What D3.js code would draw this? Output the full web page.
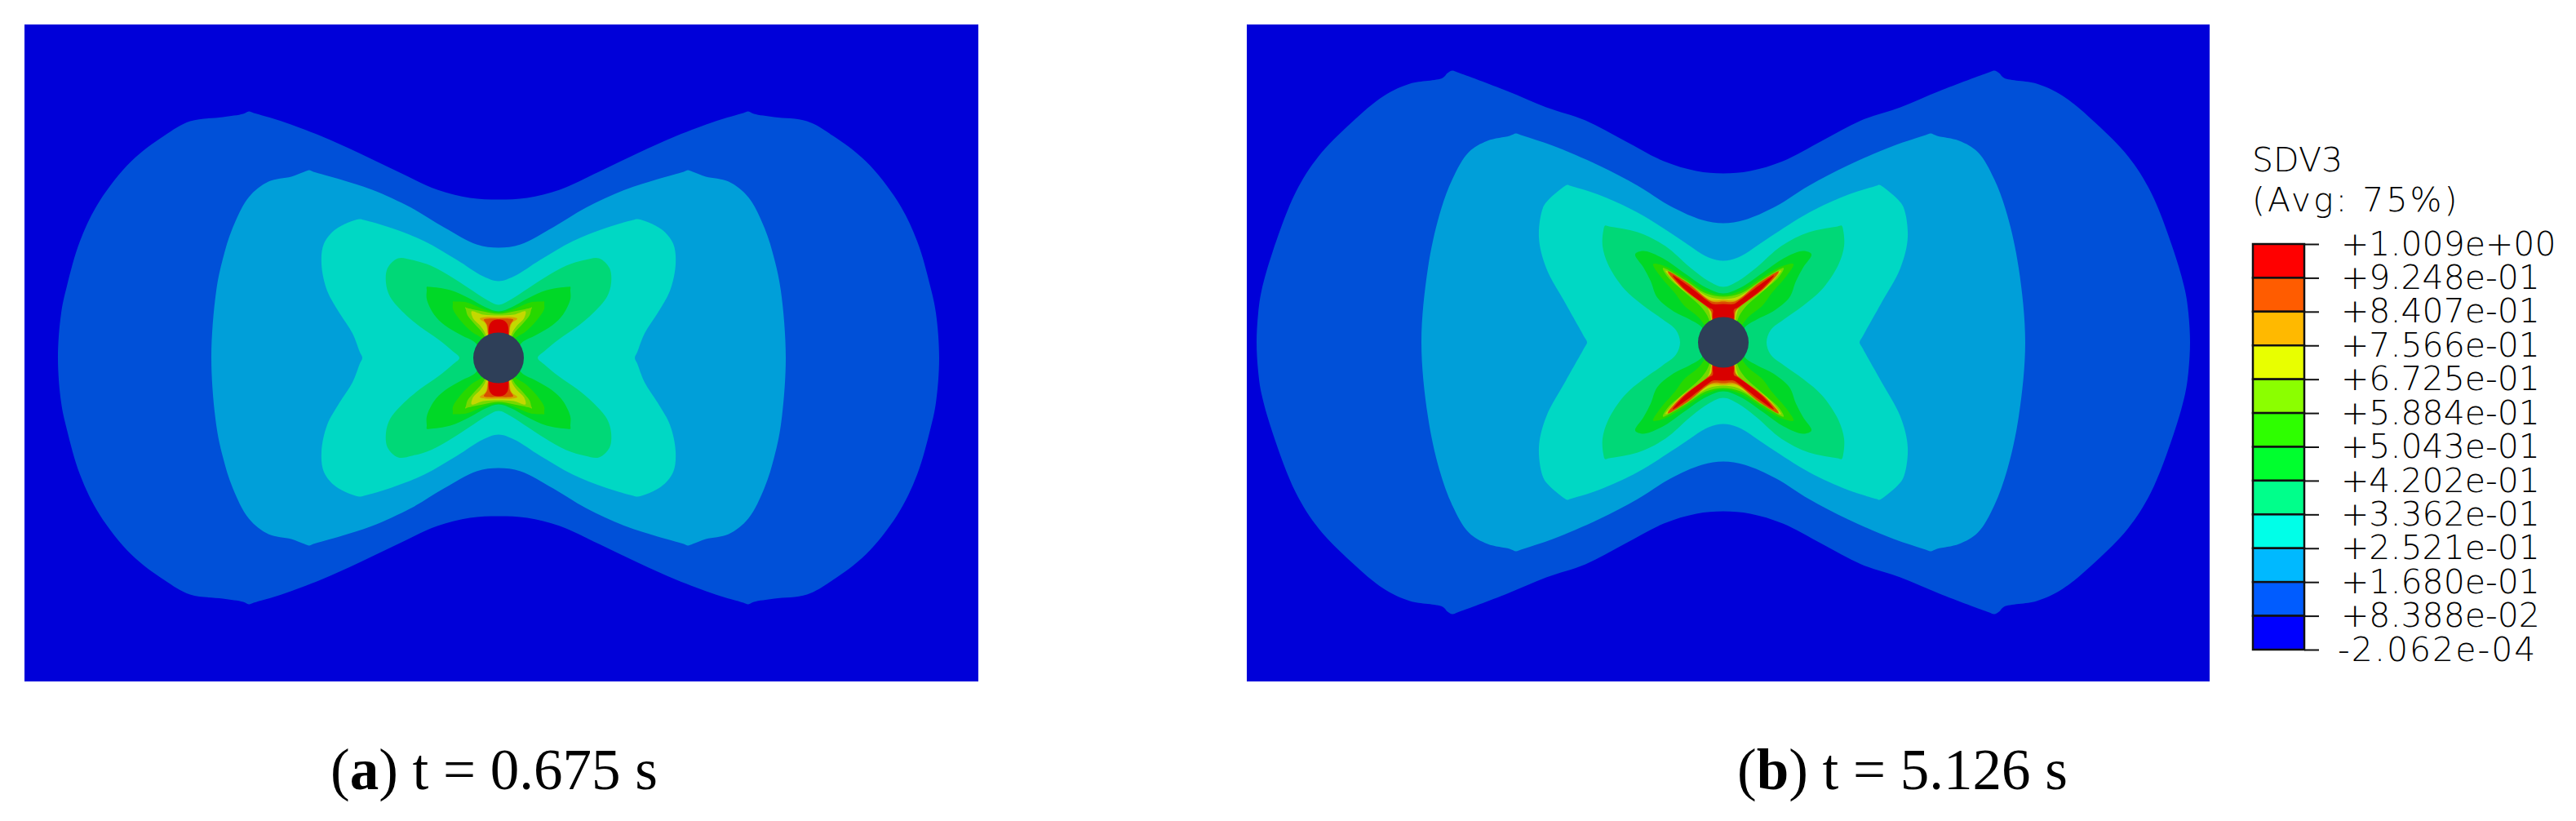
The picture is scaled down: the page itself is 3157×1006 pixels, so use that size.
<!DOCTYPE html>
<html>
<head>
<meta charset="utf-8">
<script src="https://cdn.jsdelivr.net/npm/d3@7"></script>
<style>
  html, body { margin: 0; padding: 0; background: #fff; }
  .caption { font-family: "Liberation Serif", serif; font-size: 71px; fill: #000; }
  .legendText { font-family: "DejaVu Sans", sans-serif; font-weight: 200; font-size: 41px; fill: #000; }
</style>
</head>
<body>
<div id="chart"></div>
<script>
// Legend values, top to bottom
var legendLabels = ["+1.009e+00", "+9.248e-01", "+8.407e-01", "+7.566e-01", "+6.725e-01", "+5.884e-01",
  "+5.043e-01", "+4.202e-01", "+3.362e-01", "+2.521e-01", "+1.680e-01", "+8.388e-02", "-2.062e-04"];
var legendColors = ["#ff0000", "#ff5c00", "#ffb900", "#e8ff00", "#8bff00", "#2eff00",
  "#00ff2e", "#00ff8b", "#00ffe8", "#00b9ff", "#005cff", "#0000ff"];

// Same bands as shaded in the contour plots, lowest first
var shadedColors = ["#0000d9", "#0050d8", "#009fd9", "#00d8c4", "#00d877", "#00d827",
  "#27d800", "#76d800", "#c4d800", "#d99f00", "#d94f00", "#d90000"];
var holeColor = "#2e3f58";

// One quadrant of each contour: from the vertical axis to the horizontal one
var contoursA = [
  [[0,-194],[35,-196],[75,-206],[123,-228],[171,-251],[218,-272],[266,-290],[300,-300],[306,-302],[313,-299],[338,-295],[378,-290],[410,-272],[450,-241],[489,-192],[513,-143],[529,-88],[536,-55],[540,0]],
  [[0,-135],[27,-139],[67,-160],[107,-184],[155,-206],[195,-219],[227,-228],[232,-230],[238,-228],[254,-222],[282,-216],[306,-197],[326,-159],[338,-121],[346,-82],[352,0]],
  [[0,-94],[19,-100],[51,-120],[91,-143],[131,-159],[165,-169],[171,-170],[199,-158],[214,-140],[217,-115],[210,-82],[195,-55],[179,-30],[170,-7],[167,0]],
  [[0,-65],[16,-72],[36,-85],[56,-98],[83,-113],[106,-120],[123,-122],[136,-110],[138,-92],[133,-75],[116,-55],[96,-38],[73,-22],[56,-8],[48,0]],
  [[0,-57],[16,-62],[36,-73],[59,-83],[84,-87],[88,-87],[88,-83],[88,-72],[79,-53],[66,-40],[46,-28],[28,-18],[20,0]],
  [[0,-56],[19,-60],[39,-68],[54,-69],[56,-69],[56,-66],[56,-60],[46,-45],[33,-32],[19,-22],[15,0]],
  [[0,-54],[19,-57],[38,-61],[41,-62],[40,-59],[38,-52],[28,-40],[18,-28],[12,0]],
  [[0,-52],[19,-53],[33,-57],[31,-48],[23,-40],[16,-29],[12,0]],
  [[0,-50],[16,-50],[23,-48],[16,-42],[13,-29],[10,0]],
  [[0,-48],[13,-48],[18,-47],[14,-40],[13,-29],[10,0]],
  [[0,-47],[6,-46],[11,-41],[12,-28],[8,0]]
];
var contoursB = [
  [[0,-207],[33,-210],[73,-222],[121,-247],[169,-272],[217,-288],[265,-308],[326,-331],[332,-333],[338,-330],[344,-324],[384,-317],[416,-302],[456,-269],[496,-228],[524,-184],[552,-112],[566,-63],[570,-36],[572,0]],
  [[0,-146],[26,-150],[65,-167],[105,-192],[153,-217],[209,-241],[248,-254],[254,-256],[262,-253],[289,-247],[312,-233],[332,-200],[348,-156],[362,-91],[370,0]],
  [[0,-100],[18,-104],[57,-129],[105,-159],[153,-181],[188,-192],[191,-193],[195,-191],[214,-175],[221,-165],[226,-129],[217,-91],[193,-47],[170,-6],[167,0]],
  [[0,-68],[18,-75],[41,-92],[71,-118],[105,-135],[140,-142],[145,-143],[147,-137],[148,-118],[141,-95],[121,-65],[98,-45],[74,-28],[58,-15],[53,0]],
  [[0,-60],[21,-67],[48,-85],[74,-103],[98,-112],[108,-108],[98,-92],[89,-75],[81,-55],[61,-38],[41,-28],[26,-18],[20,0]],
  [[0,-58],[21,-63],[48,-80],[71,-93],[86,-96],[78,-82],[59,-60],[48,-45],[28,-28],[15,0]],
  [[0,-56],[21,-60],[48,-77],[74,-91],[68,-80],[48,-62],[26,-42],[18,-29],[12,0]],
  [[0,-53],[18,-56],[41,-70],[64,-85],[71,-88],[54,-68],[36,-55],[21,-45],[15,-29],[12,0]],
  [[0,-52],[16,-52],[44,-73],[68,-85],[51,-67],[28,-50],[15,-40],[14,-29],[10,0]],
  [[0,-50],[14,-50],[44,-73],[68,-87],[50,-66],[21,-44],[15,-38],[14,-30],[10,0]],
  [[0,-47],[13,-47],[18,-50],[44,-70],[62,-82],[48,-66],[18,-43],[13,-40],[13,-32],[10,0]]
];
var holeRadius = 31;

// Create SVG object
var width = 3157;
var height = 1006;
var svg = d3.select("#chart").append("svg")
  .attr("width", width)
  .attr("height", height)
  .style("display", "block");

// Mirror one quadrant into a closed outline
function fullOutline(quad) {
  var q1 = quad;
  var q4 = quad.slice(0, -1).reverse().map(function(p) { return [p[0], -p[1]]; });
  var q3 = quad.slice(1).map(function(p) { return [-p[0], -p[1]]; });
  var q2 = quad.slice(1, -1).reverse().map(function(p) { return [-p[0], p[1]]; });
  return q1.concat(q4, q3, q2);
}

function drawPanel(contours, xDomain, yDomain, xRange) {
  var xScale = d3.scaleLinear().domain(xDomain).range(xRange);
  var yScale = d3.scaleLinear().domain(yDomain).range([30, 835]);
  var line = d3.line()
    .x(function(d) { return xScale(d[0]); })
    .y(function(d) { return yScale(d[1]); })
    .curve(d3.curveCatmullRomClosed.alpha(0.5));

  var g = svg.append("g");
  g.append("rect")
    .attr("x", xRange[0])
    .attr("y", 30)
    .attr("width", xRange[1] - xRange[0])
    .attr("height", 805)
    .attr("fill", shadedColors[0]);

  g.selectAll("path").data(contours).enter().append("path")
    .attr("d", function(d) { return line(fullOutline(d)); })
    .attr("fill", function(d, i) { return shadedColors[i + 1]; });

  g.append("circle")
    .attr("cx", xScale(0))
    .attr("cy", yScale(0))
    .attr("r", holeRadius)
    .attr("fill", holeColor);
}

drawPanel(contoursA, [-581, 588], [-408.5, 396.5], [30, 1199]);
drawPanel(contoursB, [-584, 596], [-389.5, 415.5], [1528, 2708]);

// Legend
var tickScale = d3.scalePoint().domain(legendLabels).range([299, 796]);
var legend = svg.append("g");

legend.selectAll("rect").data(legendColors).enter().append("rect")
  .attr("x", 2761)
  .attr("width", 63)
  .attr("y", function(d, i) { return tickScale(legendLabels[i]); })
  .attr("height", tickScale.step())
  .attr("fill", function(d) { return d; })
  .attr("stroke", "#111")
  .attr("stroke-width", 2.5);

var legendAxis = svg.append("g")
  .attr("class", "legendText")
  .attr("transform", "translate(2824,0)")
  .call(d3.axisRight(tickScale).tickSize(18).tickPadding(27));
legendAxis.select(".domain").remove();
legendAxis.attr("font-family", null).attr("font-size", null);
legendAxis.selectAll("line").attr("stroke", "#111").attr("stroke-width", 2);
legendAxis.selectAll("text")
  .attr("dy", "0.32em")
  .attr("fill", "#000")
  .style("letter-spacing", function(d) { return d.charAt(0) === "-" ? "2px" : null; })
  .attr("dx", function(d) { return d.charAt(0) === "-" ? -4 : 0; });

svg.append("text").attr("class", "legendText").attr("x", 2760).attr("y", 210).text("SDV3");
svg.append("text").attr("class", "legendText").attr("x", 2760).attr("y", 259)
  .style("letter-spacing", "3px")
  .text("(Avg: 75%)");

// Captions
function caption(x, letter, rest) {
  var t = svg.append("text").attr("class", "caption").attr("x", x).attr("y", 967);
  t.append("tspan").text("(");
  t.append("tspan").attr("font-weight", "bold").text(letter);
  t.append("tspan").text(") " + rest);
}
caption(405, "a", "t = 0.675 s");
caption(2129, "b", "t = 5.126 s");
</script>
</body>
</html>
